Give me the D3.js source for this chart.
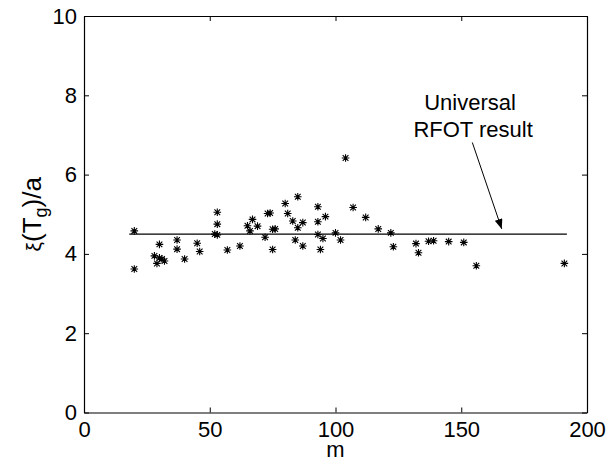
<!DOCTYPE html>
<html>
<head>
<meta charset="utf-8">
<script src="https://cdn.jsdelivr.net/npm/d3@7"></script>
<style>
  body { margin: 0; background: #fff; }
  svg text { font-family: "Liberation Sans", Arial, Helvetica, sans-serif; fill: #000; }
</style>
</head>
<body>
<div id="chart"></div>
<script>
// values
var mValues  = [20, 20, 28, 29, 30, 30, 31, 32, 37, 37, 40, 45, 46, 52, 53, 53, 53, 57, 62,
                65, 66, 67, 69, 72, 73, 74, 75, 75, 76, 80, 81, 83, 84, 85, 85, 87, 87,
                93, 93, 93, 94, 95, 96, 100, 102, 104, 107, 112, 117, 122, 123, 132, 133,
                137, 139, 145, 151, 156, 191];
var xiValues = [4.58, 3.62, 3.95, 3.76, 4.24, 3.90, 3.87, 3.82, 4.35, 4.12, 3.87, 4.27, 4.06, 4.50, 4.48, 5.05, 4.75, 4.10, 4.20,
                4.71, 4.58, 4.87, 4.70, 4.42, 5.02, 5.03, 4.11, 4.62, 4.63, 5.27, 5.02, 4.83, 4.35, 5.44, 4.66, 4.79, 4.20,
                5.19, 4.81, 4.49, 4.11, 4.39, 4.94, 4.53, 4.35, 6.42, 5.17, 4.92, 4.63, 4.53, 4.18, 4.26, 4.03,
                4.32, 4.33, 4.31, 4.29, 3.70, 3.76];
var rfotValue = 4.5;
var rfotRange = [18, 192];
var xTicks = [0, 50, 100, 150, 200];
var yTicks = [0, 2, 4, 6, 8, 10];
var noteLines = ['Universal', 'RFOT result'];

var W = 615, H = 462;
var margin = {top: 16, right: 28, bottom: 49.5, left: 84};
var w = W - margin.left - margin.right;
var h = H - margin.top - margin.bottom;

var svg = d3.select('#chart').append('svg')
  .attr('width', W)
  .attr('height', H);

var g = svg.append('g')
  .attr('transform', 'translate(' + margin.left + ',' + margin.top + ')');

var x = d3.scaleLinear().domain([0, 200]).range([0, w]);
var y = d3.scaleLinear().domain([0, 10]).range([h, 0]);

// box with inward ticks on all four sides
var tk = 5;
g.append('g').attr('transform', 'translate(0,' + h + ')')
  .call(d3.axisBottom(x).tickValues(xTicks).tickSizeInner(-tk).tickSizeOuter(0).tickPadding(9));
g.append('g').attr('transform', 'translate(0,0)')
  .call(d3.axisTop(x).tickValues(xTicks).tickSizeInner(-tk).tickSizeOuter(0).tickFormat(''));
g.append('g')
  .call(d3.axisLeft(y).tickValues(yTicks).tickSizeInner(-tk).tickSizeOuter(0).tickPadding(7));
g.append('g').attr('transform', 'translate(' + w + ',0)')
  .call(d3.axisRight(y).tickValues(yTicks).tickSizeInner(-tk).tickSizeOuter(0).tickFormat(''));

g.selectAll('.domain').attr('stroke', '#000').attr('stroke-width', 1.2);
g.selectAll('.tick line').attr('stroke', '#000').attr('stroke-width', 1);
g.selectAll('.tick text').style('font-size', '22px');

// axis labels
svg.append('text')
  .attr('x', margin.left + x(100))
  .attr('y', 457)
  .attr('text-anchor', 'middle')
  .style('font-size', '22px')
  .text('m');

var yl = svg.append('text')
  .attr('transform', 'translate(41,' + (margin.top + h / 2) + ') rotate(-90)')
  .attr('text-anchor', 'middle')
  .style('font-size', '26px');
yl.append('tspan').style('font-size', '21px').text('\u03BE');
yl.append('tspan').text('(T');
yl.append('tspan').attr('dy', 6).style('font-size', '18px').text('g');
yl.append('tspan').attr('dy', -6).text(')/a');

// RFOT line
g.append('line')
  .attr('x1', x(rfotRange[0])).attr('x2', x(rfotRange[1]))
  .attr('y1', y(rfotValue)).attr('y2', y(rfotValue))
  .attr('stroke', '#000').attr('stroke-width', 1.2);

// asterisk markers
var r = 3.8;
var star = 'M0,' + (-r) + 'V' + r + 'M' + (-r) + ',0H' + r +
  'M' + (-r * 0.75) + ',' + (-r * 0.75) + 'L' + (r * 0.75) + ',' + (r * 0.75) +
  'M' + (-r * 0.75) + ',' + (r * 0.75) + 'L' + (r * 0.75) + ',' + (-r * 0.75);

g.selectAll('path.pt')
  .data(mValues)
  .enter().append('path')
  .attr('class', 'pt')
  .attr('d', star)
  .attr('transform', function(d, i) { return 'translate(' + x(d) + ',' + y(xiValues[i]) + ')'; })
  .attr('fill', 'none')
  .attr('stroke', '#000')
  .attr('stroke-width', 1.1);

// annotation
g.selectAll('text.note')
  .data(noteLines)
  .enter().append('text')
  .attr('class', 'note')
  .attr('x', function(d, i) { return x(i ? 154.7 : 153.5); })
  .attr('y', function(d, i) { return y(i ? 6.95 : 7.64); })
  .attr('text-anchor', 'middle')
  .style('font-size', '22px')
  .text(function(d) { return d; });

svg.append('defs').append('marker')
  .attr('id', 'head')
  .attr('viewBox', '0 0 10 8')
  .attr('refX', 10).attr('refY', 4)
  .attr('markerWidth', 10).attr('markerHeight', 8)
  .attr('markerUnits', 'userSpaceOnUse')
  .attr('orient', 'auto')
  .append('path').attr('d', 'M0,0L10,4L0,8Z').attr('fill', '#000');

g.append('line')
  .attr('x1', x(154.4)).attr('y1', y(6.81))
  .attr('x2', x(166.1)).attr('y2', y(4.63))
  .attr('stroke', '#000').attr('stroke-width', 1)
  .attr('marker-end', 'url(#head)');
</script>
</body>
</html>
